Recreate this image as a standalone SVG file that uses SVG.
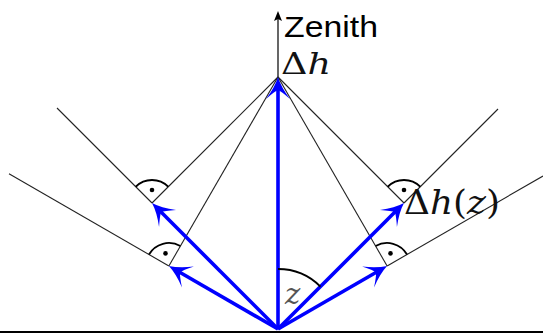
<svg xmlns="http://www.w3.org/2000/svg" width="543" height="333" viewBox="0 0 543 333">
<style>
.thin{stroke:#222;stroke-width:1.1;fill:none}
.blue{stroke:#0000ff;stroke-width:3.6;fill:none;marker-end:url(#bh)}
.ra{stroke:#000;stroke-width:1.8;fill:none}
.dot{fill:#000}
.sans{font-family:'Liberation Sans',Arial,sans-serif;fill:#000}
.math{font-family:'DejaVu Serif','Liberation Serif',serif;fill:#111}
.it{font-style:italic}
</style>
<defs>
<marker id="bh" markerUnits="userSpaceOnUse" viewBox="-14 -14 28 28" markerWidth="28" markerHeight="28" refX="0" refY="0" orient="auto" overflow="visible">
<path d="M10,0 Q0,-3 -12,-12 Q-4,-3 -3,0 Q-4,3 -12,12 Q0,3 10,0 Z" fill="#0000ff"/>
</marker>
</defs>
<rect x="0" y="331" width="543" height="3" fill="#000"/>
<g id="zenith">
<line x1="278" y1="77" x2="278" y2="18" stroke="#000" stroke-width="1.2"/>
<path d="M278,11 L274,21 L278,19 L282,21 Z" fill="#000"/>
<text class="sans" x="284" y="37" font-size="30" textLength="94" lengthAdjust="spacingAndGlyphs">Zenith</text>
</g>
<g id="apex">
<text class="math" x="281" y="74" font-size="29" textLength="50" lengthAdjust="spacingAndGlyphs">Δ<tspan class="it">h</tspan></text>
</g>
<g id="connectors">
<line class="thin" x1="152" y1="203" x2="57" y2="108"/>
<line class="thin" x1="168.88" y1="266" x2="9" y2="173.7"/>
<line class="thin" x1="404" y1="203" x2="498" y2="109"/>
<line class="thin" x1="387.12" y1="266" x2="543" y2="176"/>
<line class="thin" x1="278" y1="77" x2="152" y2="203"/>
<line class="thin" x1="278" y1="77" x2="168.88" y2="266"/>
<line class="thin" x1="278" y1="77" x2="404" y2="203"/>
<line class="thin" x1="278" y1="77" x2="387.12" y2="266"/>
<line class="blue" x1="278" y1="329" x2="278" y2="87"/>
<line class="blue" x1="278" y1="329" x2="159.07" y2="210.07"/>
<line class="blue" x1="278" y1="329" x2="396.93" y2="210.07"/>
<line class="blue" x1="278" y1="329" x2="177.54" y2="271"/>
<line class="blue" x1="278" y1="329" x2="378.46" y2="271"/>
</g>
<g id="rightangle-ul">
<path class="ra" d="M135.74,186.74 A23,23 0 0 1 168.26,186.74"/>
<circle class="dot" cx="152" cy="190" r="2.3"/>
</g>
<g id="rightangle-ll">
<path class="ra" d="M148.98,254.5 A23,23 0 0 1 180.38,246.08"/>
<circle class="dot" cx="165.5" cy="253.4" r="2.3"/>
</g>
<g id="rightangle-ur">
<path class="ra" d="M387.74,186.74 A23,23 0 0 1 420.26,186.74"/>
<circle class="dot" cx="404" cy="190" r="2.3"/>
</g>
<g id="rightangle-lr">
<path class="ra" d="M375.62,246.08 A23,23 0 0 1 407.04,254.5"/>
<circle class="dot" cx="390.5" cy="253.4" r="2.3"/>
</g>
<g id="label-dhz">
<text class="math" x="404" y="214" font-size="33" textLength="96" lengthAdjust="spacingAndGlyphs">Δ<tspan class="it">h</tspan>(<tspan class="it">z</tspan>)</text>
</g>
<g id="angle-z">
<path class="ra" d="M278,269 A60,60 0 0 1 320.43,286.57"/>
<text class="math it" x="285" y="304" font-size="29" style="fill:#555">z</text>
</g>
</svg>
